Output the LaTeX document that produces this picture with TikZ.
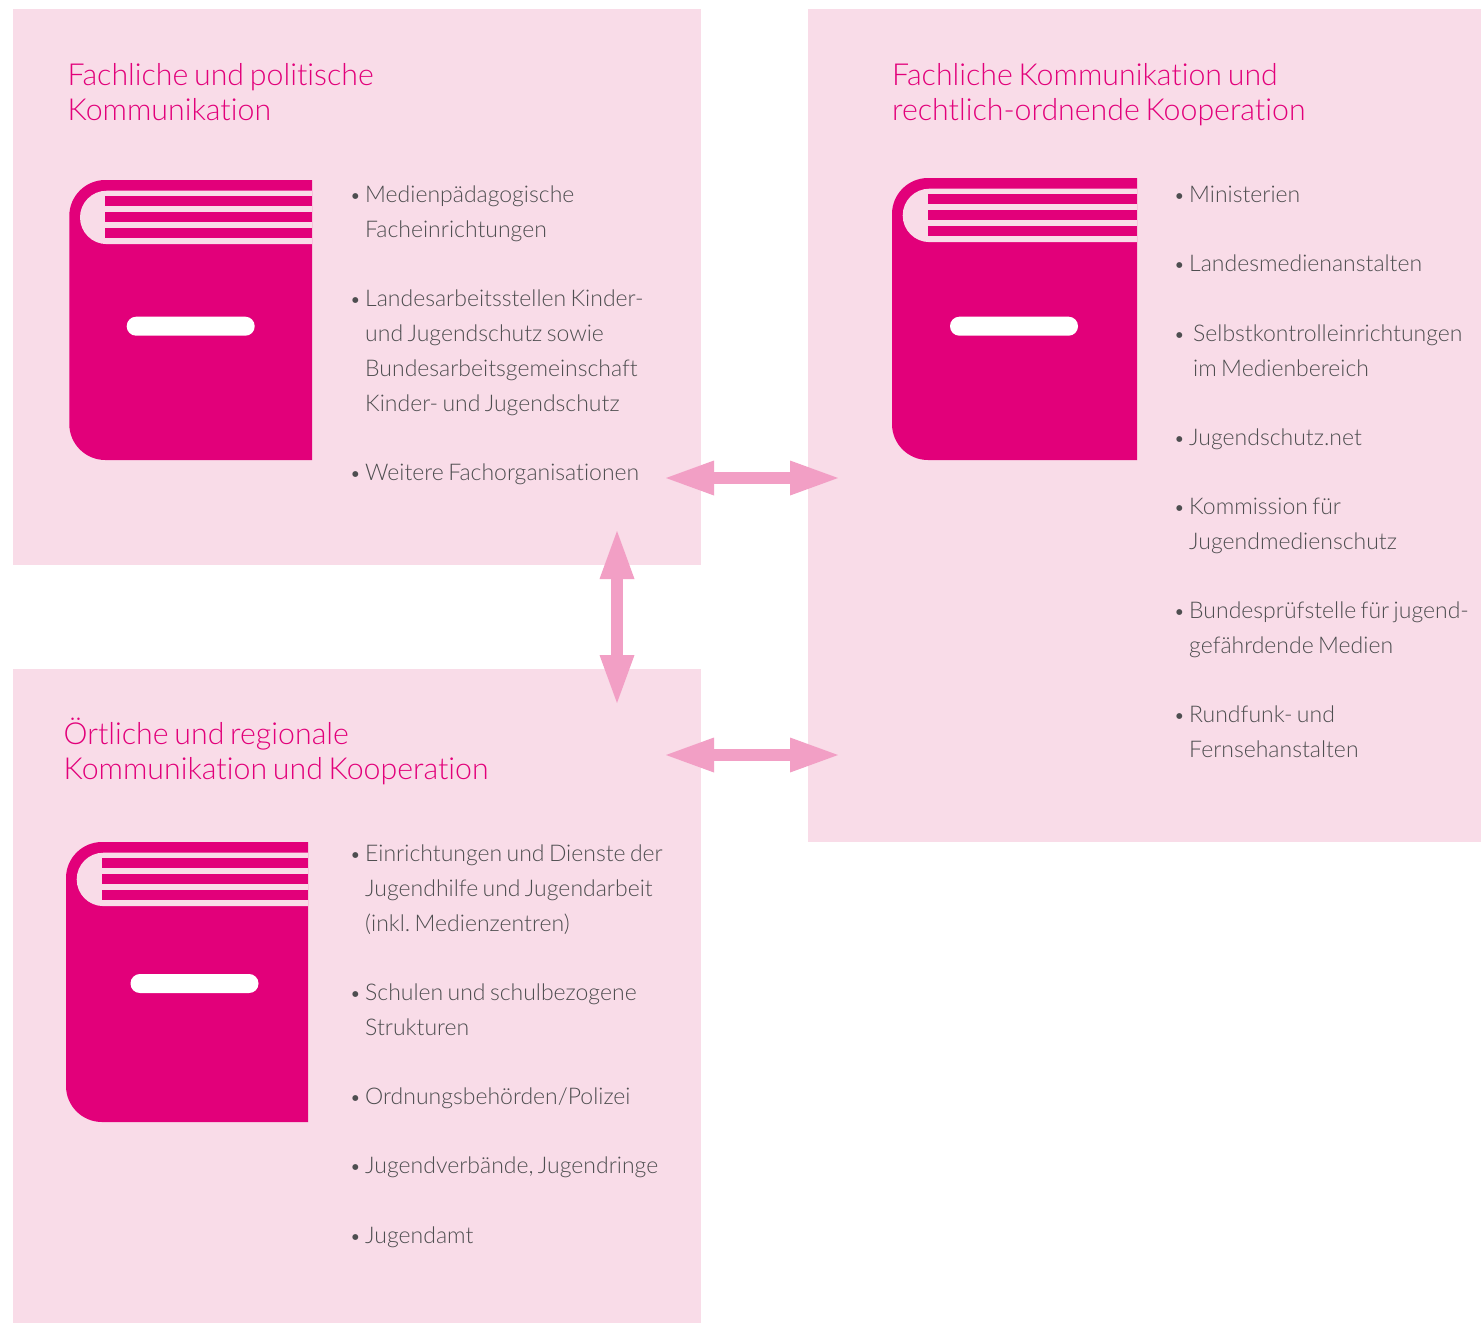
\documentclass[tikz,border=0pt]{standalone}
\usepackage{fontspec}
\setmainfont{Lato Light}[Ligatures=NoCommon,WordSpace=0.7]
\usetikzlibrary{arrows.meta}
\definecolor{panelpink}{HTML}{F9DCE8}
\definecolor{magenta}{HTML}{E2007A}
\definecolor{arrowpink}{HTML}{F29FC5}
\definecolor{bodygrey}{HTML}{4E4E50}
\tikzset{
  titletext/.style={anchor=north west,inner sep=0pt,align=left,text=magenta,font=\fontsize{30.3}{35}\selectfont},
  itemtext/.style={anchor=north west,inner sep=0pt,align=left,text=bodygrey,font=\fontsize{23}{35}\selectfont\frenchspacing},
  bulletmark/.style={anchor=north west,inner sep=0pt,text=bodygrey,font=\fontsize{20}{35}\selectfont},
  bothways/.style={draw=arrowpink,line width=12pt,{Triangle[length=48pt 0 0,width=35pt 0 0,line width=0pt]}-{Triangle[length=48pt 0 0,width=35pt 0 0,line width=0pt]}},
}
% name, bullet x, text x, baseline y, text
\newcommand{\listentry}[5]{%
  \node[bulletmark] (#1b) at (#2-1.5,#4-24.5) {\strut•};
  \node[itemtext] (#1) at (#3,#4-24.5) {\strut #5};
}
% left, top, right, bottom, bar left, bar top
\newcommand{\bookicon}[6]{%
  \fill[magenta] (#3,#2) -- (#1+36,#2) arc[start angle=270,end angle=180,radius=36] -- (#1,#4-36) arc[start angle=180,end angle=90,radius=36] -- (#3,#4) -- cycle;
  \fill[panelpink] (#3,#2+10.7) -- (#1+37.4,#2+10.7) arc[start angle=270,end angle=90,radius=26.7] -- (#3,#2+64.1) -- cycle;
  \fill[magenta] (#1+35.7,#2+16) rectangle (#3,#2+26);
  \fill[magenta] (#1+35.7,#2+32) rectangle (#3,#2+42);
  \fill[magenta] (#1+35.7,#2+48) rectangle (#3,#2+58);
  \fill[white,rounded corners=9.4pt] (#5,#6) rectangle (#5+128,#6+19);
}
\begin{document}
\begin{tikzpicture}[x=1pt,y=-1pt]
\useasboundingbox (0,0) rectangle (1481,1323);
\fill[white] (0,0) rectangle (1481,1323);
% panels
\fill[panelpink] (13,9) rectangle (701,565);
\fill[panelpink] (808,9) rectangle (1481,842);
\fill[panelpink] (13,669) rectangle (701,1323);
% titles
\node[titletext] (t1) at (67.5,61) {\strut Fachliche und politische\\Kommunikation};
\node[titletext] (t2) at (892,61) {\strut Fachliche Kommunikation und\\rechtlich-ordnende Kooperation};
\node[titletext] (t3) at (63.5,718) {\strut Örtliche und regionale\\Kommunikation und Kooperation};
% books
\bookicon{69.3}{180}{312}{460}{126.7}{316.7}
\bookicon{892}{178}{1137}{460}{950}{316.7}
\bookicon{66}{842}{308}{1122}{130.5}{974}
% lists
\listentry{a1}{351}{365}{202}{Medienpädagogische\\Facheinrichtungen}
\listentry{a2}{351}{365}{306}{Landesarbeitsstellen Kinder-\\und Jugendschutz sowie\\Bundesarbeitsgemeinschaft\\Kinder- und Jugendschutz}
\listentry{a3}{351}{365}{480}{Weitere Fachorganisationen}
\listentry{b1}{1175}{1189}{202}{Ministerien}
\listentry{b2}{1175}{1189}{271}{Landesmedienanstalten}
\listentry{b3}{1175}{1193}{341}{Selbstkontrolleinrichtungen\\im Medienbereich}
\listentry{b4}{1175}{1189}{445}{Jugendschutz.net}
\listentry{b5}{1175}{1189}{514}{Kommission für\\Jugendmedienschutz}
\listentry{b6}{1175}{1189}{618}{Bundesprüfstelle für jugend-\\gefährdende Medien}
\listentry{b7}{1175}{1189}{722}{Rundfunk- und\\Fernsehanstalten}
\listentry{c1}{351}{365}{861}{Einrichtungen und Dienste der\\Jugendhilfe und Jugendarbeit\\(inkl. Medienzentren)}
\listentry{c2}{351}{365}{1000}{Schulen und schulbezogene\\Strukturen}
\listentry{c3}{351}{365}{1104}{Ordnungsbehörden/Polizei}
\listentry{c4}{351}{365}{1173}{Jugendverbände, Jugendringe}
\listentry{c5}{351}{365}{1243}{Jugendamt}
% connectors
\coordinate (h1l) at (666,478); \coordinate (h1r) at (838,478);
\coordinate (h2l) at (666,755); \coordinate (h2r) at (838,755);
\coordinate (vt) at (617,531); \coordinate (vb) at (617,703);
\draw[bothways] (h1l) -- (h1r);
\draw[bothways] (h2l) -- (h2r);
\draw[bothways] (vt) -- (vb);
\end{tikzpicture}
\end{document}
